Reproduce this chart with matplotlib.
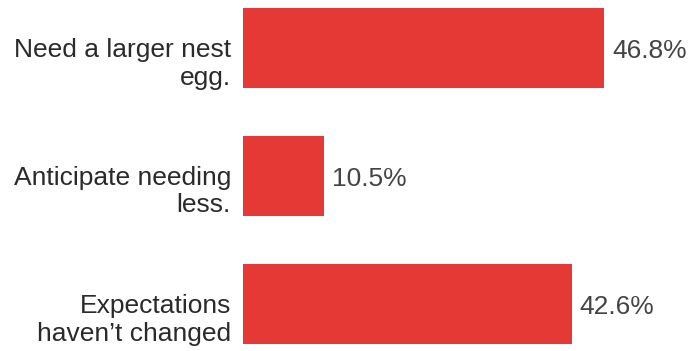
import matplotlib
matplotlib.use("Agg")
import matplotlib.pyplot as plt

categories = ["Need a larger nest\negg.", "Anticipate needing\nless.", "Expectations\nhaven\u2019t changed"]
values = [46.8, 10.5, 42.6]
value_labels = ["46.8%", "10.5%", "42.6%"]

W, H = 699, 351
fig = plt.figure(figsize=(W / 100, H / 100), dpi=100)
left_px = 243
scale = 7.715  # px per unit
ax_w_px = 440
ax = fig.add_axes([left_px / W, 0, ax_w_px / W, 1])
ax.set_xlim(0, ax_w_px / scale)
ax.set_ylim((351 - 48) / 128, -48 / 128)

color = "#E53935"
font = "Liberation Sans"
fs = 19
ypos = list(range(len(values)))
ax.barh(ypos, values, height=80 / 128, color=color)

for y, v, cat, vl in zip(ypos, values, categories, value_labels):
    for i, line in enumerate(cat.split("\n")):
        ax.annotate(line, xy=(0, y), xytext=(-12, -9.5 - 27 * i), textcoords="offset pixels",
                    ha="right", va="baseline", fontsize=fs, family=font,
                    color="#2a2a2a")
    ax.annotate(vl, xy=(v, y), xytext=(8, -9.5), textcoords="offset pixels",
                ha="left", va="baseline", fontsize=fs, family=font, color="#444444")

ax.axis("off")
fig.savefig("out.png", dpi=100)
